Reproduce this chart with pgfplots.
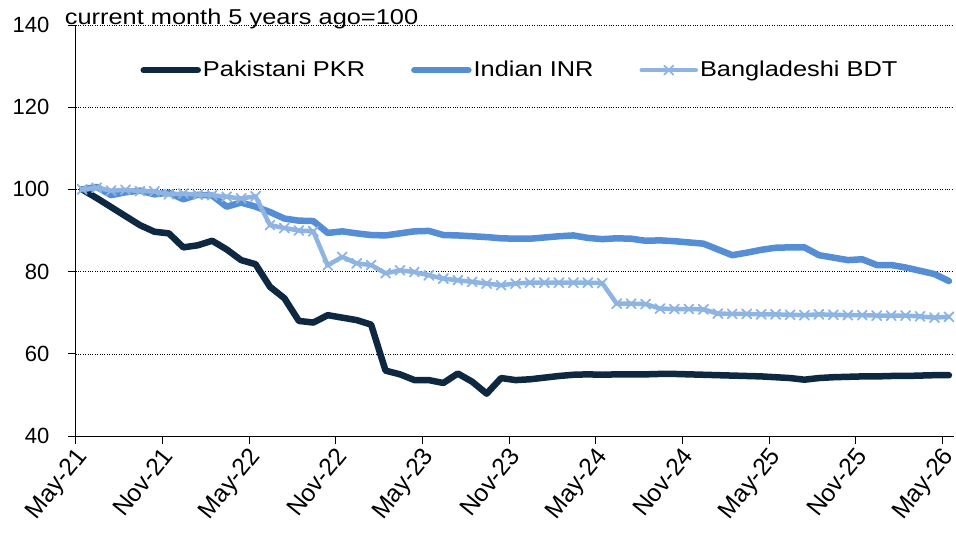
\documentclass[border=0pt]{standalone}
\usepackage{fontspec}
\setmainfont[FakeStretch=1.18]{Liberation Sans}
\newfontfamily\tickfont{Liberation Sans}
\usepackage{pgfplots}
\pgfplotsset{compat=1.18}
\usepackage{pgfplotstable}
\definecolor{pkr}{HTML}{0E2841}
\definecolor{inr}{HTML}{558ED5}
\definecolor{bdt}{HTML}{8DB4E2}
\pgfplotstableread{
i pkr inr bdt
0 100 100 100
1 97.9 100.6 100.4
2 95.7 98.6 99.7
3 93.5 99.3 99.9
4 91.3 99.7 99.6
5 89.7 98.8 99.5
6 89.3 99.2 98.8
7 85.9 97.6 99.0
8 86.4 98.7 98.7
9 87.5 98.5 98.6
10 85.4 95.8 98.2
11 82.8 96.8 97.8
12 81.8 95.8 98.3
13 76.3 94.5 91.3
14 73.5 92.9 90.6
15 68.0 92.4 90.0
16 67.6 92.3 89.8
17 69.4 89.4 81.5
18 68.8 89.8 83.6
19 68.2 89.3 82.0
20 67.1 88.9 81.6
21 55.9 88.8 79.6
22 55.0 89.3 80.3
23 53.6 89.8 79.9
24 53.6 89.9 79.1
25 52.9 88.9 78.3
26 55.2 88.8 77.9
27 53.2 88.6 77.5
28 50.3 88.4 77.1
29 54.1 88.1 76.7
30 53.6 88.0 77.1
31 53.8 88.0 77.3
32 54.2 88.3 77.3
33 54.6 88.6 77.3
34 54.9 88.8 77.3
35 55.0 88.2 77.3
36 54.9 87.9 77.2
37 55.0 88.1 72.2
38 55.0 88.0 72.2
39 55.0 87.5 72.1
40 55.1 87.6 71.0
41 55.1 87.4 70.9
42 55.0 87.1 70.9
43 54.9 86.8 70.8
44 54.8 85.4 69.8
45 54.7 84.0 69.7
46 54.6 84.6 69.7
47 54.5 85.3 69.6
48 54.3 85.8 69.6
49 54.1 85.9 69.5
50 53.7 85.9 69.4
51 54.1 84.0 69.6
52 54.3 83.4 69.5
53 54.4 82.8 69.4
54 54.5 83.0 69.4
55 54.5 81.6 69.3
56 54.6 81.6 69.3
57 54.6 81.0 69.3
58 54.7 80.2 69.1
59 54.8 79.4 68.8
60 54.8 77.7 69.0
}\datatable
\begin{document}
\fontsize{21.5}{24}\selectfont
\begin{tikzpicture}
\begin{axis}[
  scale only axis,
  width=878pt, height=411pt,
  xmin=-0.45, xmax=60.33,
  ymin=40, ymax=140,
  ytick={40,60,80,100,120,140},
  xtick={-0.45,5.55,11.55,17.55,23.55,29.55,35.55,41.55,47.55,53.55,59.55},
  xticklabels={May-21,Nov-21,May-22,Nov-22,May-23,Nov-23,May-24,Nov-24,May-25,Nov-25,May-26},
  axis x line*=bottom, axis y line*=left,
  axis line style={black, line width=0.9pt, -},
  tick align=outside,
  major tick length=8pt,
  tick style={black, line width=0.9pt},
  ymajorgrids,
  grid style={black, dotted, line width=0.6pt},
  /pgf/number format/assume math mode=true,
  yticklabel style={font=\tickfont\fontsize{22}{24}\selectfont, xshift=-11pt},
  xticklabel style={rotate=51, anchor=north east, font=\tickfont\fontsize{24.5}{26}\selectfont, inner sep=2pt, xshift=0pt, yshift=2pt},
  legend columns=3,
  legend style={draw=none, fill=none, at={(0.506,0.89)}, anchor=center,
    font=\fontsize{21.5}{24}\selectfont,
    /tikz/every even column/.append style={column sep=44pt}},
  legend cell align=left,
  legend image code/.code={\draw[mark repeat=2,mark phase=2,#1] plot coordinates {(0pt,0pt) (27pt,0pt) (54pt,0pt)};},
  clip=false,
]
\addplot[pkr, line width=6.5pt, line join=round, line cap=round, no marks] table[x=i, y=pkr] {\datatable};
\addlegendentry{Pakistani PKR}
\addplot[inr, line width=6.5pt, line join=round, line cap=round, no marks] table[x=i, y=inr] {\datatable};
\addlegendentry{Indian INR}
\addplot[bdt, line width=4.5pt, line join=round, line cap=round, mark=x, mark size=6.5pt, mark options={solid, line width=1.8pt, bdt}] table[x=i, y=bdt] {\datatable};
\addlegendentry{Bangladeshi BDT}
\node[anchor=base west, inner sep=0pt, font=\fontsize{21.5}{24}\selectfont] at ([xshift=-11pt]rel axis cs:0,1) {current month 5 years ago=100};
\end{axis}
\pgfresetboundingbox
\path[use as bounding box] (-75.7pt,-100pt) rectangle (880.3pt,436pt);
\end{tikzpicture}
\end{document}
